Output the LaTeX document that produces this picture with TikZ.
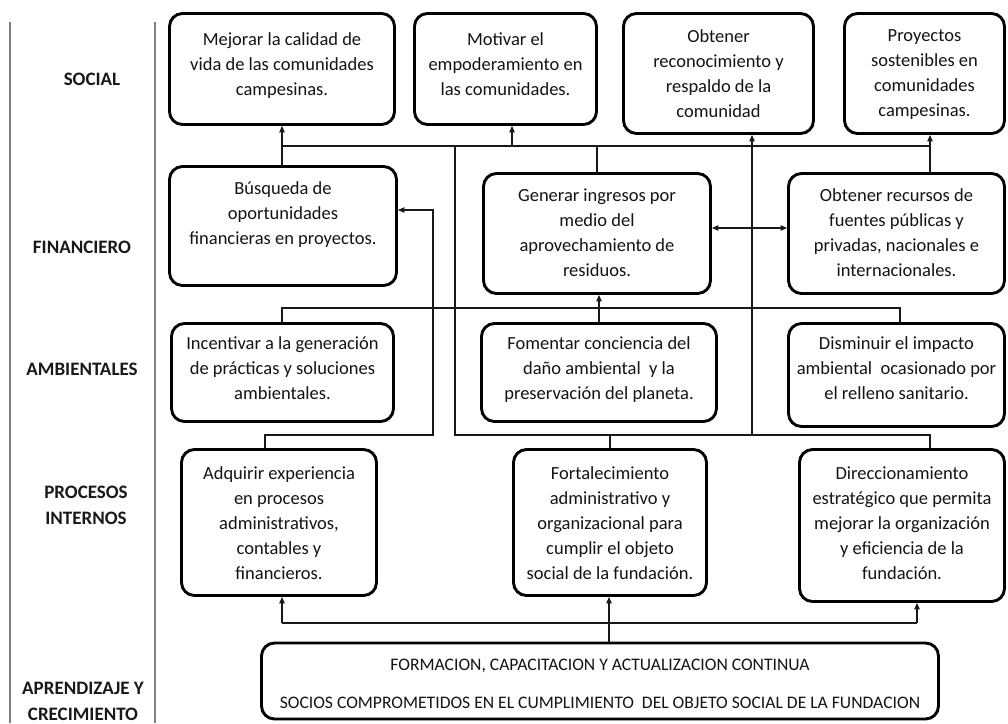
\documentclass[tikz,border=0pt]{standalone}
\usepackage{fontspec}
\setmainfont{Carlito}
\usetikzlibrary{arrows.meta}
\begin{document}
\begin{tikzpicture}[x=1pt,y=-1pt,
  box/.style={draw=black, line width=2.9pt, rounded corners=13pt, inner sep=0pt},
  txt/.style={anchor=north, inner sep=0pt, align=center, text=black!92,
    font=\fontsize{18.5}{25}\selectfont, execute at begin node=\rule{0pt}{14pt}},
  lbl/.style={anchor=north, inner sep=0pt, align=center, text=black!90,
    font=\fontsize{19}{26}\selectfont\bfseries, execute at begin node=\rule{0pt}{12.5pt}},
  captxt/.style={anchor=base, inner sep=0pt, text=black!92, font=\fontsize{17.6}{22}\selectfont},
  conn/.style={line width=1.1pt, draw=black!90},
  arr/.style={conn, -{Triangle[length=6.5pt,width=5.5pt]}},
  dbl/.style={conn, {Triangle[length=6.5pt,width=5.5pt]}-{Triangle[length=6.5pt,width=5.5pt]}},
  sepline/.style={draw=black!50, line width=1.5pt}
]
\useasboundingbox (0,0) rectangle (1008,723);
\fill[white] (0,0) rectangle (1008,723);

% column separators
\draw[sepline] (10,22) -- (10,723);
\draw[sepline] (155,22) -- (155,723);

% perspective labels
\node[lbl] (lsoc) at (92,72.6) {SOCIAL};
\node[lbl] (lfin) at (82,240.6) {FINANCIERO};
\node[lbl] (lamb) at (82,362.6) {AMBIENTALES};
\node[lbl] (lpro) at (86,485.6) {PROCESOS\\INTERNOS};
\node[lbl] (lapr) at (83,681.6) {APRENDIZAJE Y\\CRECIMIENTO};

% social
\node[box, minimum width=225pt, minimum height=111pt] (soc1) at (282,69) {};
\node[box, minimum width=182pt, minimum height=111pt] (soc2) at (505.5,69) {};
\node[box, minimum width=190pt, minimum height=120pt] (soc3) at (718.5,73.5) {};
\node[box, minimum width=160pt, minimum height=120pt] (soc4) at (924.5,73.5) {};
\node[txt] (soc1t) at (282,32.5) {Mejorar la calidad de\\vida de las comunidades\\campesinas.};
\node[txt] (soc2t) at (505.5,32.5) {Motivar el\\empoderamiento en\\las comunidades.};
\node[txt] (soc3t) at (718.5,29.5) {Obtener\\reconocimiento y\\respaldo de la\\comunidad};
\node[txt] (soc4t) at (924.5,29.5) {Proyectos\\sostenibles en\\comunidades\\campesinas.};

% financiero
\node[box, minimum width=227pt, minimum height=119pt] (fin1) at (283,226) {};
\node[box, minimum width=227pt, minimum height=120pt] (fin2) at (597,233.5) {};
\node[box, minimum width=216pt, minimum height=120pt] (fin3) at (896.5,233.5) {};
\node[txt] (fin1t) at (283,181.5) {Búsqueda de\\oportunidades\\financieras en proyectos.};
\node[txt] (fin2t) at (597,188.5) {Generar ingresos por\\medio del\\aprovechamiento de\\residuos.};
\node[txt] (fin3t) at (896.5,188.5) {Obtener recursos de\\fuentes públicas y\\privadas, nacionales e\\internacionales.};

% ambientales
\node[box, minimum width=222pt, minimum height=98pt] (amb1) at (282.5,372.5) {};
\node[box, minimum width=235pt, minimum height=98pt] (amb2) at (599,372.5) {};
\node[box, minimum width=216pt, minimum height=103pt] (amb3) at (896.5,375) {};
\node[txt] (amb1t) at (282.5,336.5) {Incentivar a la generación\\de prácticas y soluciones\\ambientales.};
\node[txt] (amb2t) at (599,336.5) {Fomentar conciencia del\\daño ambiental\ \ y la\\preservación del planeta.};
\node[txt] (amb3t) at (896.5,336.5) {Disminuir el impacto\\ambiental\ \ ocasionado por\\el relleno sanitario.};

% procesos internos
\node[box, minimum width=195pt, minimum height=146pt] (pro1) at (279,522.5) {};
\node[box, minimum width=193pt, minimum height=146pt] (pro2) at (610,522.5) {};
\node[box, minimum width=205pt, minimum height=152pt] (pro3) at (902,525.5) {};
\node[txt] (pro1t) at (279,466.5) {Adquirir experiencia\\en procesos\\administrativos,\\contables y\\financieros.};
\node[txt] (pro2t) at (610,466.5) {Fortalecimiento\\administrativo y\\organizacional para\\cumplir el objeto\\social de la fundación.};
\node[txt] (pro3t) at (902,466.5) {Direccionamiento\\estratégico que permita\\mejorar la organización\\y eficiencia de la\\fundación.};

% aprendizaje y crecimiento
\node[box, minimum width=677pt, minimum height=76pt] (apr) at (600,681) {};
\node[captxt] (apr1) at (600,670) {FORMACION, CAPACITACION Y ACTUALIZACION CONTINUA};
\node[captxt] (apr2) at (600,708) {SOCIOS COMPROMETIDOS EN EL CUMPLIMIENTO\ \ DEL OBJETO SOCIAL DE LA FUNDACION};

% social bus
\coordinate (sbL) at (282,146);
\coordinate (sbR) at (930,146);
\coordinate (sbM) at (455,146);
\coordinate (s2) at (512,146);
\draw[conn] (sbL) -- (sbR);
\draw[conn] (fin1.north -| sbL) -- (sbL);
\draw[arr] (sbL) -- (soc1.south -| sbL);
\draw[arr] (s2) -- (s2 |- soc2.south);
\draw[conn] (fin2.north) -- (fin2.north |- sbL);
\draw[arr] (fin3.north -| sbR) -- (sbR |- soc4.south);

% internal processes bus feeding the social level
\coordinate (s3) at (752,435);
\coordinate (pbR) at (930,435);
\draw[arr] (s3) -- (s3 |- soc3.south);
\draw[conn] (sbM) -- (sbM |- s3) -- (pbR) -- (pbR |- pro3.north);
\draw[conn] (pro2.north) -- (pro2.north |- s3);

% experience path into financial opportunities
\coordinate (ka) at (265,435);
\coordinate (kb) at (433,435);
\coordinate (kc) at (433,210);
\draw[arr] (pro1.north -| ka) -- (ka) -- (kb) -- (kc) -- (kc -| fin1.east);

% environmental bus
\coordinate (ebL) at (282,308);
\coordinate (ebR) at (900,308);
\draw[conn] (amb1.north -| ebL) -- (ebL) -- (ebR) -- (ebR |- amb3.north);
\draw[arr] (amb2.north) -- (amb2.north |- fin2.south);

% income <-> resources
\coordinate (dd) at (0,228);
\draw[dbl] (fin2.east |- dd) -- (fin3.west |- dd);

% learning bus
\coordinate (lbL) at (282,623);
\coordinate (lbR) at (917,623);
\coordinate (lbM) at (609,623);
\draw[conn] (lbL) -- (lbR);
\draw[arr] (lbL) -- (lbL |- pro1.south);
\draw[arr] (lbR) -- (lbR |- pro3.south);
\draw[arr] (apr.north -| lbM) -- (lbM |- pro2.south);
\end{tikzpicture}
\end{document}
